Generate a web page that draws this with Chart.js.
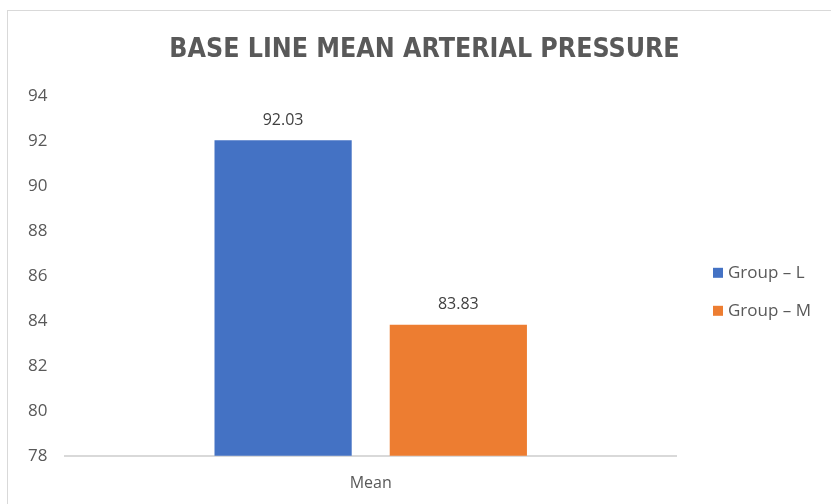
<!DOCTYPE html>
<html>
<head>
<meta charset="utf-8">
<script src="https://cdn.jsdelivr.net/npm/chart.js@4"></script>
<style>
  html, body { margin: 0; padding: 0; background: #fff; overflow: hidden; }
  #frame {
    position: absolute; left: 7px; top: 10px;
    width: 830px; height: 500px;
    border: 1px solid #d9d9d9; box-sizing: border-box;
  }
  #box { position: absolute; left: 0; top: 0; width: 823px; height: 492px; }
</style>
</head>
<body>
<div id="frame"><div id="box"><canvas id="mapChart"></canvas></div></div>
<script>
const categories = ['Mean'];
const seriesNames = ['Group \u2013 L', 'Group \u2013 M'];
const groupL = [92.03];
const groupM = [83.83];
const yTicks = [78, 80, 82, 84, 86, 88, 90, 92, 94];

const FONT = "'Open Sans', sans-serif";

// dibuja el valor encima de cada barra
const valueLabels = {
    id: 'valueLabels',
    afterDatasetsDraw(chart) {
        const ctx = chart.ctx;
        ctx.save();
        ctx.font = '16px ' + FONT;
        ctx.fillStyle = '#404040';
        ctx.textAlign = 'center';
        ctx.textBaseline = 'middle';
        chart.data.datasets.forEach((ds, i) => {
            chart.getDatasetMeta(i).data.forEach((bar, j) => {
                ctx.fillText(ds.data[j].toFixed(2), bar.x, bar.y - 20);
            });
        });
        ctx.restore();
    }
};

// leyenda a la derecha, un poco por debajo del centro como en el original
const sideLegend = {
    id: 'sideLegend',
    afterDraw(chart) {
        const ctx = chart.ctx;
        const area = chart.chartArea;
        const mid = (area.top + area.bottom) / 2 + 16;
        const x = area.right + 37;
        ctx.save();
        ctx.font = '17px ' + FONT;
        ctx.textBaseline = 'middle';
        ctx.textAlign = 'left';
        chart.data.datasets.forEach((ds, i) => {
            const y = mid + (i - 0.5) * 38;
            ctx.fillStyle = ds.backgroundColor;
            ctx.fillRect(x, y - 5, 10, 10);
            ctx.fillStyle = '#595959';
            ctx.fillText(ds.label, x + 15, y);
        });
        ctx.restore();
    }
};

const ctx = document.getElementById('mapChart').getContext('2d');
new Chart(ctx, {
    type: 'bar',
    data: {
        labels: categories,
        datasets: [
            { label: seriesNames[0], data: groupL, backgroundColor: '#4472C4' },
            { label: seriesNames[1], data: groupM, backgroundColor: '#ED7D31' }
        ]
    },
    plugins: [valueLabels, sideLegend],
    options: {
        responsive: true,
        maintainAspectRatio: false,
        animation: false,
        categoryPercentage: 0.574,
        barPercentage: 0.783,
        layout: { padding: { left: 10, right: 0, top: 0, bottom: 0 } },
        plugins: {
            title: {
                display: true,
                text: 'BASE LINE MEAN ARTERIAL PRESSURE',
                color: '#595959',
                font: { family: "'Liberation Sans Narrow', 'DejaVu Sans Condensed', sans-serif", size: 26.5, weight: 'bold' },
                padding: { top: 23, bottom: 30 }
            },
            legend: { display: false },
            tooltip: { enabled: false }
        },
        scales: {
            x: {
                grid: { display: false },
                border: { display: true, color: '#d9d9d9', width: 2 },
                ticks: { color: '#595959', font: { family: FONT, size: 16 }, padding: 10 }
            },
            y: {
                min: 78,
                max: 94,
                afterBuildTicks: axis => { axis.ticks = yTicks.map(v => ({ value: v })); },
                grid: { display: false },
                border: { display: false },
                ticks: { color: '#595959', font: { family: FONT, size: 17 }, padding: 10 }
            },
            // eje vacío: solo reserva el hueco de la leyenda
            yRight: {
                position: 'right',
                min: 78,
                max: 94,
                grid: { display: false },
                border: { display: false },
                ticks: { display: false },
                afterFit: axis => { axis.width = 155; }
            }
        }
    }
});
</script>
</body>
</html>
